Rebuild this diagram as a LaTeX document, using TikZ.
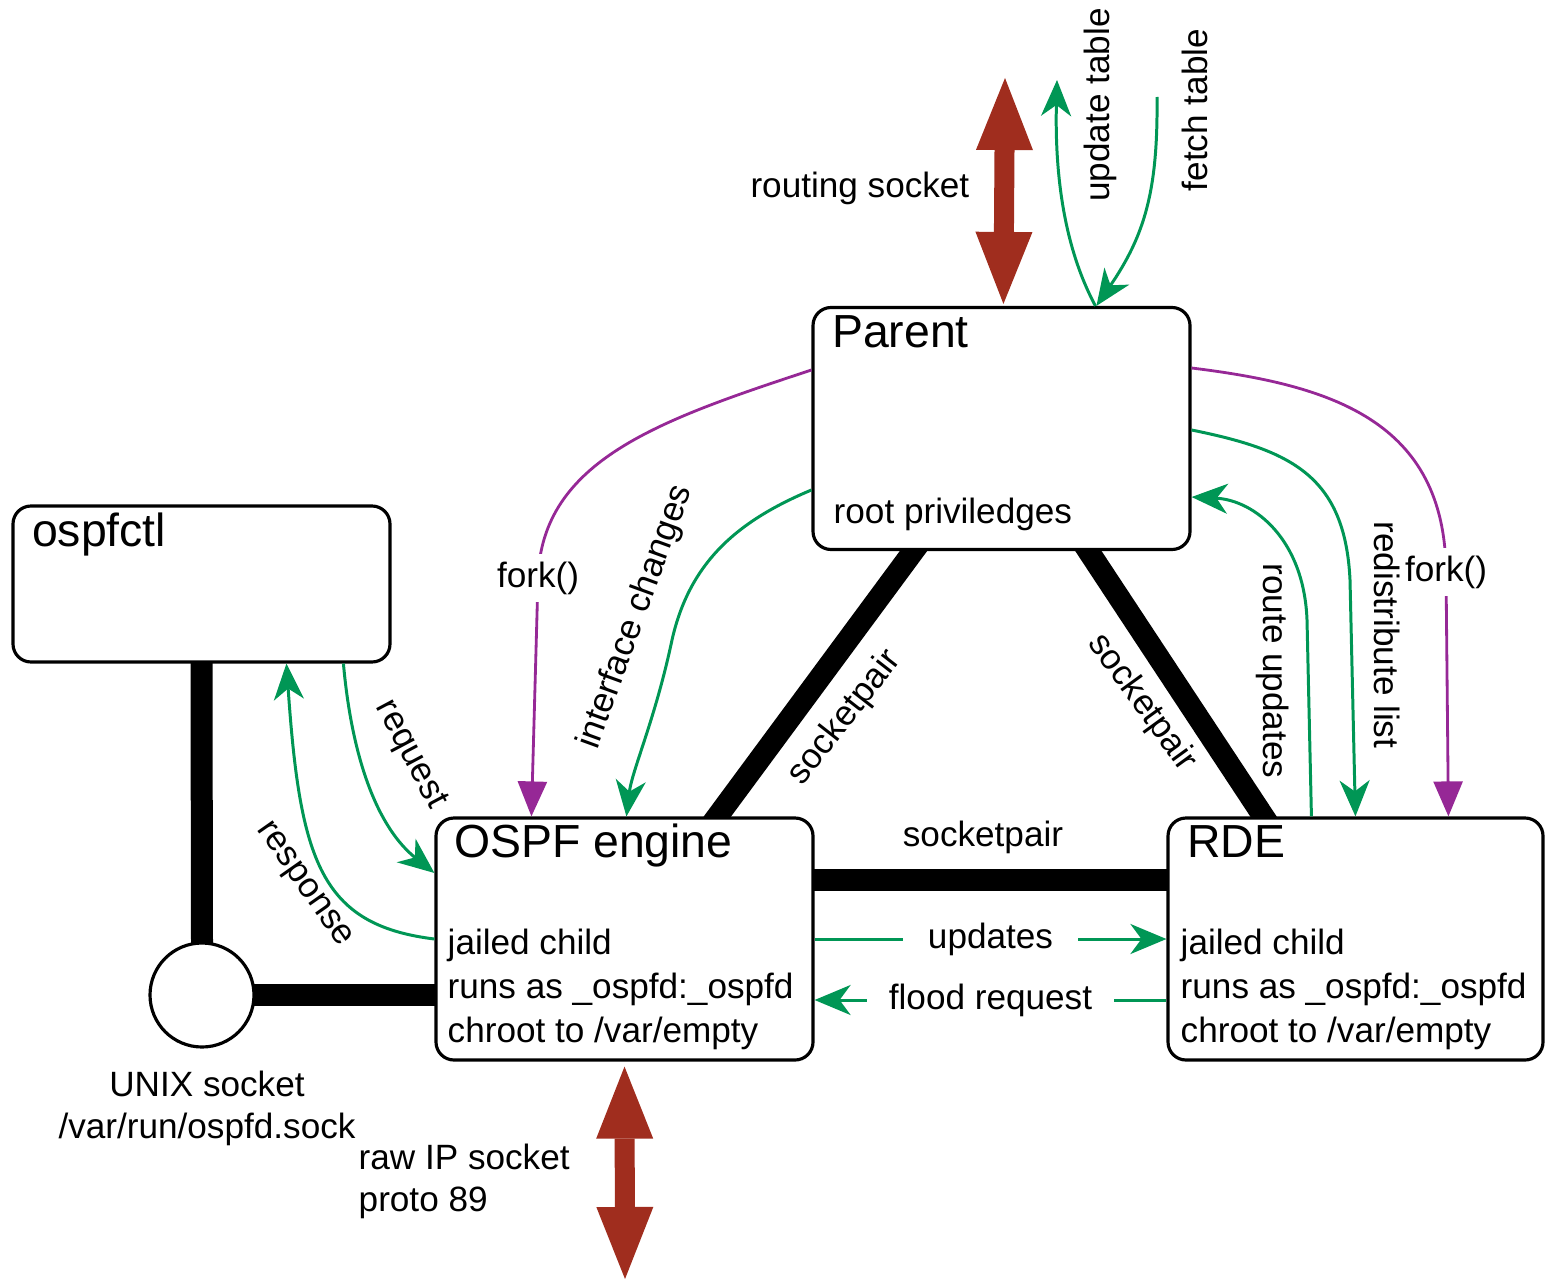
\documentclass[tikz,border=0pt]{standalone}
\usepackage{fontspec}
\setmainfont{Liberation Sans}
\usetikzlibrary{arrows.meta,backgrounds,positioning}
\definecolor{msggreen}{RGB}{0,150,85}
\definecolor{forkpurple}{RGB}{150,40,150}
\definecolor{sockred}{RGB}{160,45,30}
\begin{document}
\begin{tikzpicture}[
    proc/.style={draw, line width=0.9pt, rounded corners=0.18cm, fill=white, minimum width=3.77cm, minimum height=2.42cm, inner sep=0pt},
    title/.style={font=\fontsize{13.2}{15}\selectfont, inner sep=0pt, anchor=base west},
    body/.style={font=\fontsize{10}{12.5}\selectfont, inner sep=0pt, align=left, anchor=west},
    lbl/.style={font=\fontsize{10}{12}\selectfont, inner sep=0pt, text=black},
    gap/.style={lbl, fill=white, inner xsep=0.4mm, inner ysep=0.8mm},
    pipe/.style={line width=0.22cm, shorten <=-2mm, shorten >=-2mm},
    msg/.style={msggreen, line width=0.85pt, -{Stealth[length=3.6mm,width=3.0mm,inset=1.1mm]}},
    fork/.style={forkpurple, line width=0.8pt, -{Triangle[length=3.5mm,width=2.9mm]}},
    sock/.style={sockred, line width=0.2cm, {Triangle[length=7.2mm,width=5.7mm,line width=0pt]}-{Triangle[length=7.2mm,width=5.7mm,line width=0pt]}}
  ]
  \useasboundingbox (0,0) rectangle (15.45,-12.79);

  \node[proc] (parent) at (10.015,-4.285) {};
  \node[proc, minimum height=1.56cm] (ctl) at (2.015,-5.84) {};
  \node[proc] (engine) at (6.245,-9.39) {};
  \node[proc, minimum width=3.75cm] (rde) at (13.555,-9.39) {};
  \node[draw, circle, line width=0.9pt, fill=white, minimum size=1.04cm] (sock) at (2.02,-9.95) {};

  \node[title] (parenttitle) at ([xshift=2mm,yshift=-4.2mm]parent.north west) {Parent};
  \node[body] (parentbody) at (8.33,-5.14) {root priviledges};
  \node[title] (ctltitle) at ([xshift=2mm,yshift=-4.2mm]ctl.north west) {ospfctl};
  \node[title] (enginetitle) at ([xshift=1.9mm,yshift=-4.1mm]engine.north west) {OSPF engine};
  \node[body] (enginebody) at (4.47,-9.89) {jailed child\\runs as \_ospfd:\_ospfd\\chroot to /var/empty};
  \node[title] (rdetitle) at ([xshift=2mm,yshift=-4.1mm]rde.north west) {RDE};
  \node[body] (rdebody) at (11.80,-9.89) {jailed child\\runs as \_ospfd:\_ospfd\\chroot to /var/empty};

  \begin{scope}[on background layer]
    \draw[pipe] (ctl.south) -- (sock.north);
    \draw[pipe] (sock.east) -- (sock.east -| engine.west);
    \draw[pipe] ([xshift=10.2mm]parent.south west) -- ([xshift=28.3mm]engine.north west);
    \draw[pipe] ([xshift=27.7mm]parent.south west) -- ([xshift=9.7mm]rde.north west);
    \draw[pipe] ([yshift=5.9mm]engine.east) -- ([yshift=5.9mm]rde.west);
  \end{scope}

  \node[lbl, rotate=52] (leftpair) at (8.45,-7.18) {socketpair};
  \node[lbl, rotate=-54] (rightpair) at (11.42,-7.03) {socketpair};
  \node[lbl] (midpair) at (9.83,-8.37) {socketpair};

  \coordinate (routetop) at (10.05,-0.78);
  \draw[sock] ([xshift=19.2mm,yshift=0.2mm]parent.north west) -- (routetop);
  \node[lbl, anchor=east] (routelbl) at (9.70,-1.88) {routing socket};
  \coordinate (rawend) at (6.25,-12.79);
  \draw[sock] ([yshift=-0.5mm]engine.south) -- (rawend);
  \node[lbl, align=left, anchor=west] (rawlbl) at (3.58,-11.81) {raw IP socket\\proto 89};
  \node[lbl, align=center] (socklbl) at (2.07,-11.08) {UNIX socket\\/var/run/ospfd.sock};

  \coordinate (updtop) at (10.57,-0.80);
  \coordinate (fetchtop) at (11.57,-0.97);
  \draw[msg] ([xshift=28.4mm]parent.north west) .. controls (10.60,-2.40) and (10.55,-1.60) .. (updtop);
  \draw[msg] (fetchtop) .. controls (11.58,-1.90) and (11.45,-2.35) .. ([xshift=28.5mm]parent.north west);
  \node[lbl, rotate=90] (updlbl) at (11.00,-1.05) {update table};
  \node[lbl, rotate=90] (fetchlbl) at (11.95,-1.10) {fetch table};

  \draw[fork] ([yshift=5.85mm]parent.west) .. controls (6.60,-4.20) and (5.42,-4.60) .. (5.38,-5.78) node[gap] (forkleft) {fork()} -- ([xshift=9.7mm]engine.north west);
  \draw[fork] ([yshift=6.05mm]parent.east) .. controls (13.30,-3.85) and (14.45,-4.20) .. (14.46,-5.72) node[gap] (forkright) {fork()} -- ([xshift=28.2mm]rde.north west);

  \draw[msg] ([yshift=-0.15mm]parent.east) .. controls (12.90,-4.50) and (13.45,-4.75) .. (13.50,-5.80) -- ([xshift=18.9mm]rde.north west);
  \node[lbl, rotate=-90] (redistlbl) at (13.87,-6.35) {redistribute list};
  \draw[msg] ([xshift=14.5mm]rde.north west) -- (13.07,-6.20) .. controls (13.04,-5.40) and (12.55,-5.00) .. ([yshift=-6.85mm]parent.east);
  \node[lbl, rotate=-90] (rupdlbl) at (12.73,-6.71) {route updates};

  \draw[msg] ([yshift=-6.15mm]parent.west) .. controls (7.40,-5.20) and (6.90,-5.60) .. (6.72,-6.40) .. controls (6.55,-7.20) and (6.32,-7.70) .. ([xshift=19.2mm]engine.north west);
  \node[lbl, rotate=70] (iflbl) at (6.36,-6.17) {interface changes};

  \draw[msg] ([xshift=33.2mm]ctl.south west) .. controls (3.52,-7.60) and (3.78,-8.28) .. ([yshift=6.6mm]engine.west);
  \node[lbl, rotate=-62] (reqlbl) at (4.10,-7.55) {request};
  \draw[msg] (engine.west) .. controls (3.20,-9.25) and (3.00,-8.60) .. ([xshift=27.5mm]ctl.south west);
  \node[lbl, rotate=-55] (resplbl) at (3.03,-8.85) {response};

  \draw[msg] (engine.east) -- (rde.west) node[gap, inner xsep=2.5mm, midway] (updateslbl) {updates};
  \draw[msg] ([yshift=-6.1mm]rde.west) -- ([yshift=-6.1mm]engine.east) node[gap, inner xsep=2.2mm, midway] (floodlbl) {flood request};
\end{tikzpicture}
\end{document}
